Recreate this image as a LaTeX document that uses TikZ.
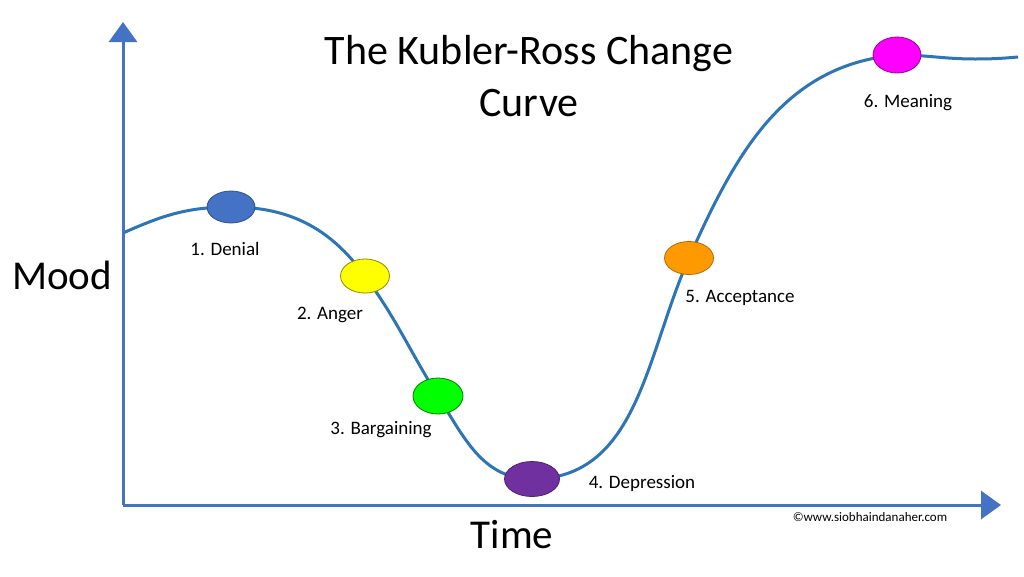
\documentclass[tikz,border=0pt]{standalone}
\usepackage{fontspec}
\setmainfont{Carlito}
\usetikzlibrary{shapes.geometric,arrows.meta}
\pgfdeclarelayer{background}
\pgfsetlayers{background,main}
\definecolor{axisblue}{HTML}{4472C4}
\definecolor{curveblue}{HTML}{2E75B6}
\definecolor{stagepurple}{RGB}{112,48,160}
\definecolor{stageorange}{RGB}{255,153,0}
\definecolor{stagemagenta}{RGB}{255,0,255}
\definecolor{stageyellow}{RGB}{255,255,0}
\definecolor{stagegreen}{RGB}{0,255,0}
\tikzset{
  axisline/.style={draw=axisblue,line width=3pt,-{Triangle[length=20pt,width=28pt]}},
  curveline/.style={draw=curveblue,line width=3pt},
  stage/.style={ellipse,draw,line width=0.8pt,inner sep=0pt},
  stagelabel/.style={anchor=base,font=\fontsize{19}{22}\selectfont,text=black,inner sep=0pt},
  biglabel/.style={anchor=base,font=\fontsize{41}{50}\selectfont,text=black,inner sep=0pt},
}
\begin{document}
\begin{tikzpicture}[x=1pt,y=-1pt]
\useasboundingbox (0,0) rectangle (1024,576);
% axes
\coordinate (O) at (123,505);
\coordinate (ytip) at (123,22);
\coordinate (xtip) at (1001,505);
\draw[axisline] (O) -- (ytip);
\draw[axisline] (O) -- (xtip);
% stages
\node[stage,fill=axisblue,draw=axisblue!70!black,minimum width=48pt,minimum height=32pt] (den) at (231,207) {};
\node[stage,fill=stageyellow,draw=stageyellow!55!black,minimum width=49pt,minimum height=34pt] (ang) at (365,276) {};
\node[stage,fill=stagegreen,draw=stagegreen!50!black,minimum width=50pt,minimum height=36pt] (bar) at (438,396) {};
\node[stage,fill=stagepurple,draw=stagepurple!70!black,minimum width=55pt,minimum height=35pt] (dep) at (532,479) {};
\node[stage,fill=stageorange,draw=stageorange!70!black,minimum width=49pt,minimum height=33pt] (acc) at (689,258) {};
\node[stage,fill=stagemagenta,draw=stagemagenta!60!black,minimum width=48pt,minimum height=36pt] (mea) at (897,55) {};
% curve
\coordinate (c0) at (123,233);
\coordinate (c11) at (975,59);
\coordinate (c12) at (1018,57);
\begin{pgfonlayer}{background}
\fill[white] (0,0) rectangle (1024,576);
\draw[curveline] (c0) to[out=24,in=180] (den.center)
  to[out=0,in=126] (ang.center)
  to[out=-54,in=122] (bar.center)
  to[out=-58,in=180] (dep.center)
  to[out=0,in=-114] (acc.center)
  to[out=66,in=185] (mea.center)
  to[out=0,in=180] (c11)
  to[out=0,in=185] (c12);
\end{pgfonlayer}
% labels
\node[stagelabel] (l1) at (225,255) {1. Denial};
\node[stagelabel] (l2) at (330,319) {2. Anger};
\node[stagelabel] (l3) at (381,434) {3. Bargaining};
\node[stagelabel] (l4) at (642,488) {4. Depression};
\node[stagelabel] (l5) at (740,302) {5. Acceptance};
\node[stagelabel] (l6) at (908,107) {6. Meaning};
\node[biglabel] (mood) at (62,289) {Mood};
\node[biglabel] (time) at (512,548) {Time};
\node[anchor=base,font=\fontsize{42}{52}\selectfont,inner sep=0pt] (title1) at (529,64) {The Kubler-Ross Change};
\node[anchor=base,font=\fontsize{42}{52}\selectfont,inner sep=0pt] (title2) at (529,116) {Curve};
\node[anchor=base,font=\fontsize{13}{15}\selectfont,inner sep=0pt] (copy) at (870,521) {©www.siobhaindanaher.com};
\end{tikzpicture}
\end{document}
